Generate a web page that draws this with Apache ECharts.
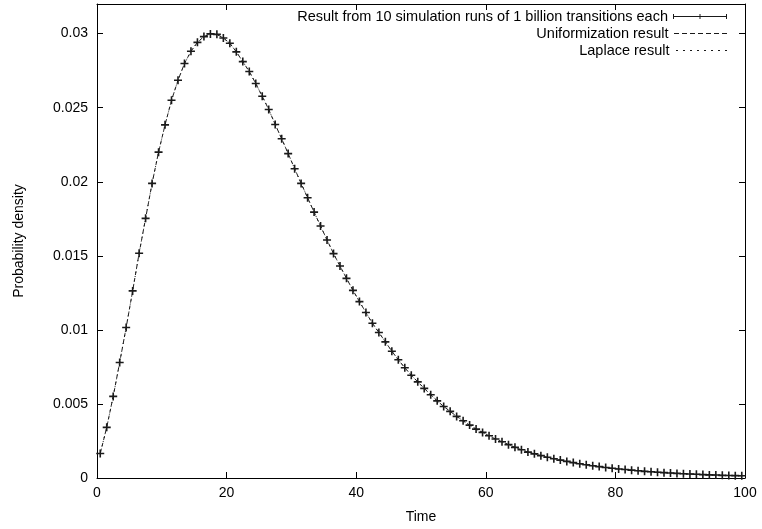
<!DOCTYPE html>
<html>
<head>
<meta charset="utf-8">
<script src="https://cdn.jsdelivr.net/npm/echarts@6/dist/echarts.min.js"></script>
<style>
html,body{margin:0;padding:0;background:#fff;}
#chart{width:762px;height:529px;}
</style>
</head>
<body>
<div id="chart"></div>
<script>
// Time (centre of each simulation bin)
var simTimes = [0.5,1.5,2.5,3.5,4.5,5.5,6.5,7.5,8.5,9.5,10.5,11.5,12.5,13.5,14.5,15.5,16.5,17.5,18.5,19.5,
20.5,21.5,22.5,23.5,24.5,25.5,26.5,27.5,28.5,29.5,30.5,31.5,32.5,33.5,34.5,35.5,36.5,37.5,38.5,39.5,
40.5,41.5,42.5,43.5,44.5,45.5,46.5,47.5,48.5,49.5,50.5,51.5,52.5,53.5,54.5,55.5,56.5,57.5,58.5,59.5,
60.5,61.5,62.5,63.5,64.5,65.5,66.5,67.5,68.5,69.5,70.5,71.5,72.5,73.5,74.5,75.5,76.5,77.5,78.5,79.5,
80.5,81.5,82.5,83.5,84.5,85.5,86.5,87.5,88.5,89.5,90.5,91.5,92.5,93.5,94.5,95.5,96.5,97.5,98.5,99.5];

var simDensity = [0.00165,0.00342,0.00551,0.0078,0.01016,0.01263,0.01517,0.01753,0.01989,0.0220,
0.02384,0.0255,0.02685,0.02798,0.02881,0.02941,0.0298,0.02998,0.02995,0.0297,
0.02935,0.02877,0.02811,0.02744,0.02663,0.02577,0.02488,0.02387,0.0229,0.0219,
0.02088,0.01989,0.01892,0.01795,0.01701,0.01607,0.01515,0.01431,0.01348,0.01267,
0.01191,0.01117,0.01045,0.00982,0.00919,0.00856,0.00798,0.00744,0.00694,0.00649,
0.00605,0.00562,0.00521,0.00483,0.0045,0.00416,0.00386,0.00357,0.0033,0.00308,
0.00285,0.00263,0.00245,0.00225,0.00207,0.00191,0.00175,0.00163,0.00151,0.0014,
0.0013,0.00121,0.00112,0.00104,0.00096,0.00089,0.00083,0.00077,0.00071,0.00066,
0.00061,0.00057,0.00053,0.00049,0.00045,0.00042,0.00039,0.00036,0.00034,0.00031,
0.00029,0.00027,0.00025,0.00023,0.00021,0.0002,0.00018,0.00017,0.00016,0.00015];

var curveTimes = simTimes.slice();
var uniformizationDensity = [0.00165,0.00342,0.00551,0.0078,0.01016,0.01263,0.01517,0.01753,0.01989,0.0220,
0.02384,0.0255,0.02685,0.02798,0.02881,0.02941,0.0298,0.02998,0.02995,0.0297,
0.02935,0.02877,0.02811,0.02744,0.02663,0.02577,0.02488,0.02387,0.0229,0.0219,
0.02088,0.01989,0.01892,0.01795,0.01701,0.01607,0.01515,0.01431,0.01348,0.01267,
0.01191,0.01117,0.01045,0.00982,0.00919,0.00856,0.00798,0.00744,0.00694,0.00649,
0.00605,0.00562,0.00521,0.00483,0.0045,0.00416,0.00386,0.00357,0.0033,0.00308,
0.00285,0.00263,0.00245,0.00225,0.00207,0.00191,0.00175,0.00163,0.00151,0.0014,
0.0013,0.00121,0.00112,0.00104,0.00096,0.00089,0.00083,0.00077,0.00071,0.00066,
0.00061,0.00057,0.00053,0.00049,0.00045,0.00042,0.00039,0.00036,0.00034,0.00031,
0.00029,0.00027,0.00025,0.00023,0.00021,0.0002,0.00018,0.00017,0.00016,0.00015];
var laplaceDensity = uniformizationDensity.slice();

var seriesNames = ['Result from 10 simulation runs of 1 billion transitions each','Uniformization result','Laplace result'];
var xTicks = [0,20,40,60,80,100];
var yTicks = [0,0.005,0.01,0.015,0.02,0.025,0.03];

function pairs(xs, ys){ return xs.map(function(x,i){ return [x, ys[i]]; }); }

var FONT = 'Liberation Sans, Arial, Helvetica, sans-serif';
var INK = '#1a1a1a';
var chart = echarts.init(document.getElementById('chart'), null, {renderer:'canvas'});

var axisCommon = {
  axisLine:{show:true, onZero:false, lineStyle:{color:'#000', width:1}},
  axisTick:{show:true, inside:true, length:6, lineStyle:{color:'#000', width:1}},
  splitLine:{show:false}
};

var simIcon = 'path://M0,2h54v1h-54z M0,0h1v5h-1z M53,0h1v5h-1z M26.5,0h1v5h-1z';
var dashIcon = 'path://M0,0h5v1h-5z M8,0h5v1h-5z M16,0h5v1h-5z M24,0h5v1h-5z M32,0h5v1h-5z M40,0h5v1h-5z M48,0h5v1h-5z';
var dotIcon = 'path://M0,0h2v1h-2z M7,0h2v1h-2z M14,0h2v1h-2z M21,0h2v1h-2z M28,0h2v1h-2z M35,0h2v1h-2z M42,0h2v1h-2z M49,0h2v1h-2z';

function mkLegend(name, icon, top, h){
  return {
    data:[{name:name, icon:icon}],
    right:35, top:top, orient:'vertical', align:'right', padding:0,
    itemWidth:54, itemHeight:h, selectedMode:false,
    itemStyle:{color:INK, borderWidth:0},
    lineStyle:{width:0},
    textStyle:{fontFamily:FONT, fontSize:14.5, color:'#000'}
  };
}

chart.setOption({
  animation:false,
  backgroundColor:'#fff',
  grid:{left:97, right:17, top:4, bottom:50, containLabel:false},
  legend:[
    mkLegend(seriesNames[0], simIcon, 9, 5),
    mkLegend(seriesNames[1], dashIcon, 26, 1),
    mkLegend(seriesNames[2], dotIcon, 43, 1)
  ],
  xAxis:[
    Object.assign({type:'value', min:xTicks[0], max:xTicks[xTicks.length-1], interval:20, position:'bottom',
      name:'Time', nameLocation:'middle', nameGap:32,
      nameTextStyle:{fontFamily:FONT, fontSize:14, color:'#000'},
      axisLabel:{fontFamily:FONT, fontSize:14, color:'#000', margin:8}}, axisCommon),
    Object.assign({type:'value', min:0, max:100, interval:20, position:'top',
      axisLabel:{show:false}}, axisCommon)
  ],
  yAxis:[
    Object.assign({type:'value', min:yTicks[0], max:0.032, interval:0.005, position:'left',
      name:'Probability density', nameLocation:'middle', nameGap:71, nameRotate:90,
      nameTextStyle:{fontFamily:FONT, fontSize:14, color:'#000'},
      axisLabel:{fontFamily:FONT, fontSize:14, color:'#000', margin:9, showMaxLabel:false}}, axisCommon),
    Object.assign({type:'value', min:0, max:0.032, interval:0.005, position:'right',
      axisLabel:{show:false}}, axisCommon)
  ],
  series:[
    {
      name:seriesNames[0], type:'line', xAxisIndex:0, yAxisIndex:0,
      data:pairs(simTimes, simDensity),
      lineStyle:{width:0, opacity:0},
      symbol:'path://M0,4L8,4M4,0L4,8', symbolSize:8, showAllSymbol:true,
      itemStyle:{color:'none', borderColor:INK, borderWidth:1.6},
      z:3
    },
    {
      name:seriesNames[1], type:'line', xAxisIndex:0, yAxisIndex:0,
      data:pairs(curveTimes, uniformizationDensity),
      showSymbol:false, symbol:'none',
      lineStyle:{color:INK, width:1, type:[4,3]},
      z:4
    },
    {
      name:seriesNames[2], type:'line', xAxisIndex:0, yAxisIndex:0,
      data:pairs(curveTimes, laplaceDensity),
      showSymbol:false, symbol:'none',
      lineStyle:{color:INK, width:1, type:[1,3]},
      z:5
    }
  ]
});
</script>
</body>
</html>
